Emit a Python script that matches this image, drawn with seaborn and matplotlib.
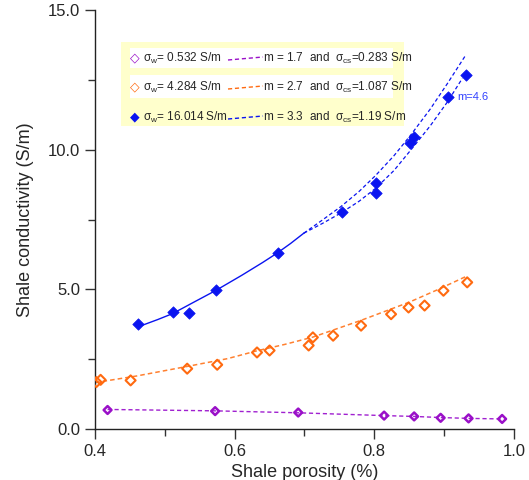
import matplotlib
matplotlib.use("Agg")
import matplotlib.pyplot as plt
import seaborn as sns
from matplotlib.patches import Rectangle
from matplotlib.ticker import MultipleLocator

# ---- data ----
blue_x = [0.461, 0.511, 0.534, 0.573, 0.662, 0.754, 0.802, 0.802, 0.851, 0.857, 0.905, 0.932]
blue_y = [3.77, 4.20, 4.15, 4.98, 6.30, 7.76, 8.80, 8.44, 10.23, 10.45, 11.88, 12.69]

orange_x = [0.402, 0.408, 0.451, 0.532, 0.575, 0.632, 0.650, 0.706, 0.712, 0.741, 0.781,
            0.824, 0.849, 0.872, 0.899, 0.933]
orange_y = [1.68, 1.76, 1.74, 2.16, 2.30, 2.74, 2.81, 2.99, 3.28, 3.34, 3.70,
            4.11, 4.35, 4.42, 4.95, 5.25]

purple_x = [0.418, 0.572, 0.691, 0.814, 0.857, 0.895, 0.935, 0.983]
purple_y = [0.68, 0.64, 0.59, 0.48, 0.45, 0.40, 0.38, 0.36]

# fitted curves
fit_solid_x = [0.463, 0.490, 0.511, 0.540, 0.573, 0.610, 0.640, 0.661, 0.680, 0.699]
fit_solid_y = [3.67, 3.92, 4.13, 4.52, 4.96, 5.50, 5.96, 6.30, 6.64, 7.01]
fit_up_x = [0.699, 0.725, 0.752, 0.778, 0.802, 0.828, 0.852, 0.880, 0.905, 0.931]
fit_up_y = [7.01, 7.47, 7.96, 8.50, 9.08, 9.78, 10.52, 11.45, 12.38, 13.39]
fit_lo_x = [0.699, 0.725, 0.752, 0.778, 0.802, 0.828, 0.852, 0.880, 0.905, 0.926]
fit_lo_y = [7.01, 7.35, 7.73, 8.15, 8.62, 9.25, 9.98, 10.85, 11.72, 12.55]
fit_or_x = [0.400, 0.460, 0.532, 0.590, 0.632, 0.672, 0.712, 0.781, 0.850, 0.890, 0.933]
fit_or_y = [1.66, 1.90, 2.24, 2.52, 2.80, 3.03, 3.29, 3.89, 4.54, 4.98, 5.48]
fit_pu_x = [0.418, 0.572, 0.691, 0.814, 0.857, 0.895, 0.935, 0.983]
fit_pu_y = [0.70, 0.65, 0.58, 0.48, 0.45, 0.41, 0.38, 0.36]

x_ticks = [0.4, 0.6, 0.8, 1.0]
x_tick_labels = ["0.4", "0.6", "0.8", "1.0"]
y_ticks = [0.0, 5.0, 10.0, 15.0]
y_tick_labels = ["0.0", "5.0", "10.0", "15.0"]

legend_rows = [
    (r"$\sigma_w$= 0.532 S/m", r"m = 1.7  and  $\sigma_{cs}$=0.283 S/m"),
    (r"$\sigma_w$= 4.284 S/m", r"m = 2.7  and  $\sigma_{cs}$=1.087 S/m"),
    (r"$\sigma_w$= 16.014 S/m", r"m = 3.3  and  $\sigma_{cs}$=1.19 S/m"),
]

BLUE = "#0a14f0"
ORANGE = "#ff6a10"
PURPLE = "#9a10c8"

sns.set_style("ticks")
plt.rcParams["font.family"] = ["Liberation Sans", "DejaVu Sans"]
plt.rcParams["mathtext.fontset"] = "custom"
plt.rcParams["mathtext.rm"] = "Liberation Sans"
plt.rcParams["mathtext.it"] = "Liberation Sans"

fig = plt.figure(figsize=(5.29, 4.80), dpi=100)
ax = fig.add_axes([0.1796, 0.10625, 0.7920, 0.8729])

dash = (0, (3, 2))
# fit lines
sns.lineplot(x=fit_solid_x, y=fit_solid_y, ax=ax, color=BLUE, lw=1.0, sort=False)
sns.lineplot(x=fit_up_x, y=fit_up_y, ax=ax, color=BLUE, lw=0.9, linestyle=dash, sort=False)
sns.lineplot(x=fit_lo_x, y=fit_lo_y, ax=ax, color=BLUE, lw=0.9, linestyle=dash, sort=False)
sns.lineplot(x=fit_or_x, y=fit_or_y, ax=ax, color="#ff8030", lw=1.1, linestyle=dash, sort=False)
sns.lineplot(x=fit_pu_x, y=fit_pu_y, ax=ax, color="#a020d0", lw=1.0, linestyle=dash, sort=False)

# points
sns.scatterplot(x=blue_x, y=blue_y, ax=ax, marker="D", s=34, color=BLUE, edgecolor=BLUE, linewidth=0.5, zorder=5)
sns.scatterplot(x=orange_x, y=orange_y, ax=ax, marker="D", s=26, facecolor="none", edgecolor=ORANGE, linewidth=1.5, zorder=5)
sns.scatterplot(x=purple_x, y=purple_y, ax=ax, marker="D", s=16, facecolor="none", edgecolor=PURPLE, linewidth=1.8, zorder=5)

ax.text(0.919, 11.9, "m=4.6", color="#3040ff", fontsize=8, va="center", ha="left")

ax.set_xlim(0.4, 1.0)
ax.set_ylim(0.0, 15.0)
ax.set_xticks(x_ticks)
ax.set_xticklabels(x_tick_labels)
ax.set_yticks(y_ticks)
ax.set_yticklabels(y_tick_labels)
ax.xaxis.set_minor_locator(MultipleLocator(0.1))
ax.yaxis.set_minor_locator(MultipleLocator(2.5))
ax.tick_params(which="major", length=7, width=1, labelsize=12, direction="out", color="#333333")
ax.tick_params(which="minor", length=5, width=1, direction="out", color="#333333")
ax.set_xlabel("Shale porosity (%)", fontsize=13)
ax.set_ylabel("Shale conductivity (S/m)", fontsize=13, labelpad=10)
sns.despine(ax=ax)
for sp in ("left", "bottom"):
    ax.spines[sp].set_linewidth(1.0)
    ax.spines[sp].set_color("#222222")

# legend panel in figure pixel coords
W, H = 529, 480
def fx(px):
    return px / W
def fy(py):
    return 1 - py / H

fig.patches.append(Rectangle((fx(121), fy(126)), (404 - 121) / W, (126 - 42) / H,
                             transform=fig.transFigure, facecolor="#ffffcc", edgecolor="none", zorder=10))
for top, bot in [(48, 68), (75, 98)]:
    fig.patches.append(Rectangle((fx(130), fy(bot)), (393 - 130) / W, (bot - top) / H,
                                 transform=fig.transFigure, facecolor="white", edgecolor="none", zorder=11))

row_y = [58, 87, 117]
row_colors = [PURPLE, ORANGE, BLUE]
for (t1, t2), yy, col in zip(legend_rows, row_y, row_colors):
    if col == BLUE:
        fig.text(fx(135), fy(yy), "\u25c6", color=col, fontsize=9, ha="center", va="center", zorder=12)
    else:
        fig.text(fx(135), fy(yy), "\u25c7", color=col, fontsize=9, ha="center", va="center", zorder=12,
                 fontweight="bold")
    fig.text(fx(143), fy(yy), t1, fontsize=8.5, ha="left", va="center", zorder=12)
    fig.add_artist(plt.Line2D([fx(228), fx(263)], [fy(yy + 2), fy(yy - 1)], transform=fig.transFigure,
                              color=col, lw=1.0, linestyle=dash, zorder=12))
    fig.text(fx(263), fy(yy), t2, fontsize=8.5, ha="left", va="center", zorder=12)

fig.savefig("out.png", dpi=100)
